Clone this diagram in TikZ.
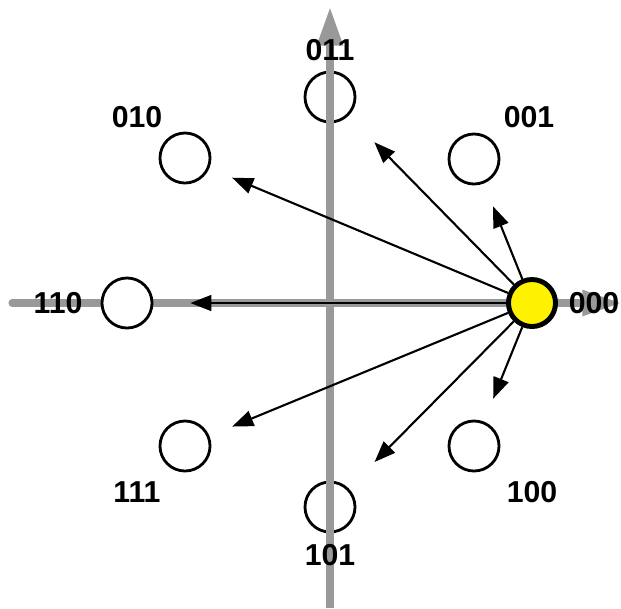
\documentclass[tikz,border=0pt]{standalone}
\usepackage{fontspec}
\setmainfont{Liberation Sans}
\usetikzlibrary{arrows.meta}

\begin{document}
\begin{tikzpicture}[x=0.01cm,y=-0.01cm,font=\fontsize{8.6}{10}\selectfont\bfseries,
  axis/.style={draw=black!40,line width=2pt,-{Triangle[length=11pt,width=7pt]}},
  state/.style={circle,draw,line width=0.8pt,fill=white,minimum size=0.5cm,inner sep=0pt},
  move/.style={-{Triangle[length=6pt,width=4.5pt]},line width=0.6pt}]

\useasboundingbox (0,0) rectangle (621,608);

\begin{scope}
\coordinate (w) at (12,303);
\coordinate (e) at (621,303);
\coordinate (s) at (330,608);
\coordinate (n) at (330,7);

\draw[axis,line cap=round] (w) -- (e);

\node[state] (s001) at (474,159) {};
\node[state] (s011) at (330,97) {};
\node[state] (s010) at (185,158) {};
\node[state] (s110) at (127,303) {};
\node[state] (s111) at (185,446) {};
\node[state] (s101) at (330,507) {};
\node[state] (s100) at (474,446) {};

\draw[axis] (s) -- (n);

\node[state,fill=yellow,line width=1.4pt,minimum size=0.47cm] (s000) at (532,303) {};

\draw[move,shorten >=7pt] (s000) -- (s001);
\draw[move,shorten >=10.5pt] (s000) -- (s011);
\draw[move,shorten >=7pt] (s000) -- (s010);
\draw[move,shorten >=10.5pt] (s000) -- (s110);
\draw[move,shorten >=7pt] (s000) -- (s111);
\draw[move,shorten >=10.5pt] (s000) -- (s101);
\draw[move,shorten >=7pt] (s000) -- (s100);
\end{scope}

\node (l000) at (594,303) {000};
\node (l001) at (529,117) {001};
\node (l011) at (330,50) {011};
\node (l010) at (137,117) {010};
\node (l110) at (58,303) {110};
\node (l111) at (137,492) {111};
\node (l101) at (330,555) {101};
\node (l100) at (532,492) {100};

\end{tikzpicture}
\end{document}
